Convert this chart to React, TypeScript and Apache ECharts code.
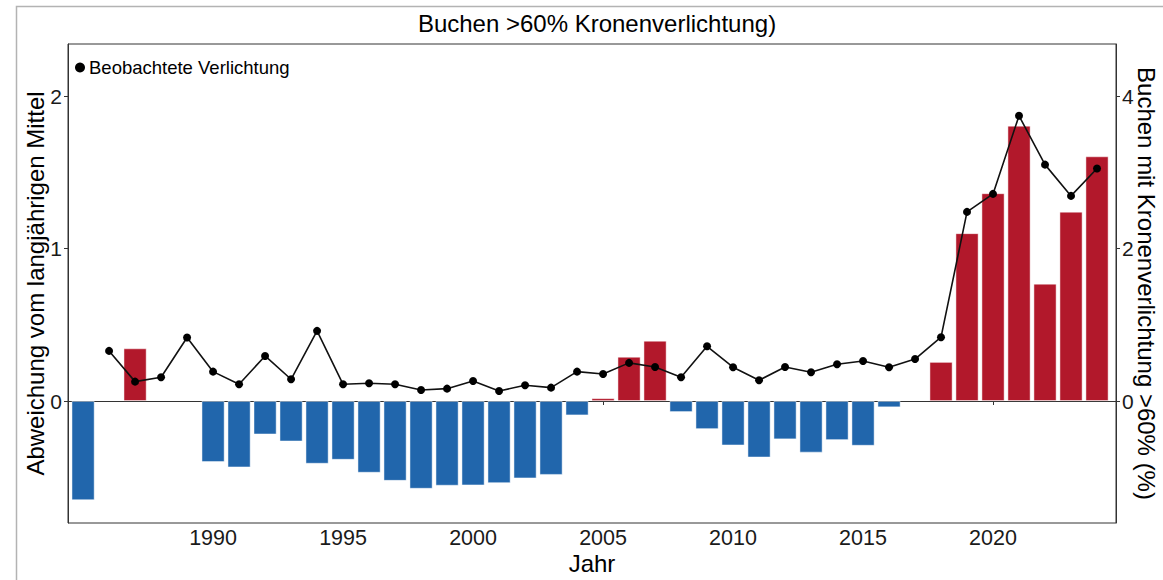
import React, { useEffect, useRef } from "react";
import * as echarts from "echarts";

const years: number[] = [];
for (let y = 1985; y <= 2024; y++) years.push(y);

const deviation: (number | null)[] = [
  -0.65, null, 0.345, null, null, -0.40, -0.435, -0.219, -0.265, -0.411,
  -0.385, -0.47, -0.523, -0.575, -0.555, -0.553, -0.538, -0.507, -0.484, -0.094,
  0.018, 0.29, 0.395, -0.072, -0.184, -0.291, -0.37, -0.251, -0.338, -0.256,
  -0.293, -0.041, null, 0.256, 1.10, 1.362, 1.805, 0.769, 1.241, 1.604,
];

const observed: (number | null)[] = [
  null, 0.657, 0.254, 0.311, 0.832, 0.385, 0.219, 0.591, 0.285, 0.92,
  0.219, 0.232, 0.22, 0.145, 0.162, 0.263, 0.131, 0.206, 0.175, 0.385,
  0.355, 0.50, 0.447, 0.311, 0.718, 0.443, 0.272, 0.447, 0.377, 0.481,
  0.525, 0.443, 0.55, 0.837, 2.48, 2.716, 3.741, 3.10, 2.69, 3.049,
];

const xTicks = [1990, 1995, 2000, 2005, 2010, 2015, 2020];
const leftTicks = [0, 1, 2];
const rightTicks = [0, 2, 4];

const TITLE = "Buchen >60% Kronenverlichtung)";
const FONT = "Liberation Sans, Arial, sans-serif";

export default function App() {
  const ref = useRef<HTMLDivElement>(null);
  useEffect(() => {
    if (!ref.current) return;
    const chart = echarts.init(ref.current, undefined, { renderer: "svg" });
    const barData = years.map((y, i) => [y, deviation[i]]);
    const lineData = years.map((y, i) => [y, observed[i]]);
    chart.setOption({
      animation: false,
      textStyle: { fontFamily: FONT },
      title: {
        text: TITLE,
        left: 592,
        textAlign: "center",
        top: 6,
        textStyle: { fontSize: 24, fontWeight: "normal", color: "#000", fontFamily: FONT },
      },
      graphic: [
        {
          type: "rect",
          shape: { x: 16.5, y: 6.5, width: 1200, height: 700 },
          style: { fill: "none", stroke: "#b3b3b3", lineWidth: 1.5 },
          silent: true,
        },
      ],
      legend: {
        data: [{ name: "Beobachtete Verlichtung", icon: "circle" }],
        left: 70,
        top: 53,
        itemWidth: 10,
        itemHeight: 10,
        itemGap: 4,
        textStyle: { fontSize: 18.5, color: "#000", fontFamily: FONT, padding: [0, 0, 0, -1] },
      },
      grid: {
        left: 68,
        right: 47,
        top: 44,
        bottom: 57,
        outerBoundsMode: "none",
        containLabel: false,
        show: true,
        borderColor: "#333",
        borderWidth: 1,
        backgroundColor: "transparent",
      },
      xAxis: {
        type: "value",
        min: 1984.42,
        max: 2024.73,
        name: "Jahr",
        nameLocation: "middle",
        nameGap: 28,
        nameMoveOverlap: false,
        nameTextStyle: { fontSize: 24, color: "#000", fontFamily: FONT },
        axisLine: { show: true, lineStyle: { color: "#333" } },
        axisTick: { show: true, customValues: xTicks, length: 4, lineStyle: { color: "#333" } },
        axisLabel: {
          customValues: xTicks,
          fontSize: 21.5,
          color: "#1a1a1a",
          margin: 4,
          fontFamily: FONT,
          formatter: (v: number) => String(v),
        },
        splitLine: { show: false },
      },
      yAxis: [
        {
          type: "value",
          min: -0.8,
          max: 2.341,
          name: "Abweichung vom langjährigen Mittel",
          nameLocation: "middle",
          nameGap: 21,
          nameMoveOverlap: false,
          nameTextStyle: { fontSize: 24, color: "#000", fontFamily: FONT },
          axisLine: { show: true, lineStyle: { color: "#333" } },
          axisTick: { show: true, customValues: leftTicks, length: 4, lineStyle: { color: "#333" } },
          axisLabel: {
            customValues: leftTicks,
            fontSize: 21,
            color: "#1a1a1a",
            margin: 6,
            fontFamily: FONT,
          },
          splitLine: { show: false },
        },
        {
          type: "value",
          min: -1.6,
          max: 4.682,
          position: "right",
          name: "Buchen mit Kronenverlichtung >60% (%)",
          nameLocation: "middle",
          nameRotate: -90,
          nameGap: 18,
          nameMoveOverlap: false,
          nameTextStyle: { fontSize: 24, color: "#000", fontFamily: FONT },
          axisLine: { show: true, lineStyle: { color: "#333" } },
          axisTick: { show: true, customValues: rightTicks, length: 4, lineStyle: { color: "#333" } },
          axisLabel: {
            customValues: rightTicks,
            fontSize: 21,
            color: "#1a1a1a",
            margin: 6,
            fontFamily: FONT,
          },
          splitLine: { show: false },
        },
      ],
      series: [
        {
          name: "Abweichung",
          type: "bar",
          yAxisIndex: 0,
          barWidth: 23,
          data: barData,
          itemStyle: {
            color: (p: any) => (p.value[1] >= 0 ? "#b2182b" : "#2166ac"),
            borderColor: "rgba(255,255,255,0.6)",
            borderWidth: 0.8,
          },
        },
        {
          name: "Beobachtete Verlichtung",
          type: "line",
          yAxisIndex: 1,
          data: lineData,
          symbol: "circle",
          symbolSize: 8,
          connectNulls: false,
          lineStyle: { color: "#111", width: 1.6 },
          itemStyle: { color: "#000" },
          z: 5,
        },
      ],
    });
    return () => chart.dispose();
  }, []);
  return (
    <div
      ref={ref}
      style={{ position: "fixed", left: 0, top: 0, width: 1163, height: 580, background: "#fff" }}
    />
  );
}
